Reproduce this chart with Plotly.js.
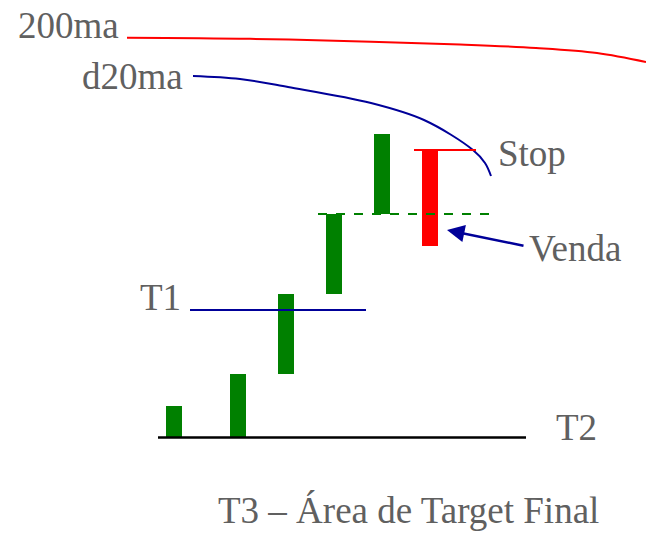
<!DOCTYPE html>
<html>
<head>
<meta charset="utf-8">
<script src="https://cdn.plot.ly/plotly-3.0.1.min.js"></script>
</head>
<body style="margin:0;background:#fff">
<div id="chart"></div>
<script>
// Candles (screen-like units, y grows downward)
const candleX      = [174, 238, 286, 334, 382, 430];
const candleTop    = [406, 374, 294, 214, 134, 150];
const candleBottom = [437, 437, 374, 294, 214, 246];
const candleColor  = ['#008000','#008000','#008000','#008000','#008000','#FF0000'];

// Moving averages
const ma200X = [127, 250, 371, 460, 536, 597, 646];
const ma200Y = [37.7, 38.8, 41.7, 44.5, 48, 53, 62];
const d20X   = [193, 240, 288, 371, 424, 473, 485, 491];
const d20Y   = [76, 79, 87, 103, 120, 150, 163, 176];

// Horizontal reference levels
const t1X = [190, 366], t1Y = [310, 310];
const t2X = [158, 526], t2Y = [437.5, 437.5];
const entryX = [318, 494], entryY = [214, 214];
const stopX = [414, 476], stopY = [150, 150];

// Labels
const labels = ['200ma', 'd20ma', 'Stop', 'Venda', 'T1', 'T2', 'T3 – Área de Target Final'];
const labelX = [17, 81, 497, 528, 139, 555, 217];
const labelY = [25, 76, 153, 248, 297, 427, 510];

const traces = [
  {type:'bar', x:candleX, y:candleBottom.map((b,i)=>b-candleTop[i]), base:candleTop,
   width:16, marker:{color:candleColor, line:{width:0}}, hoverinfo:'skip'},
  {type:'scatter', mode:'lines', x:ma200X, y:ma200Y, line:{color:'#FF0000', width:2, shape:'spline'}},
  {type:'scatter', mode:'lines', x:d20X, y:d20Y, line:{color:'#000099', width:2, shape:'spline'}},
  {type:'scatter', mode:'lines', x:t1X, y:t1Y, line:{color:'#000099', width:2}},
  {type:'scatter', mode:'lines', x:t2X, y:t2Y, line:{color:'#000000', width:2.5}},
  {type:'scatter', mode:'lines', x:entryX, y:entryY, line:{color:'#008000', width:2, dash:'dash'}},
  {type:'scatter', mode:'lines', x:stopX, y:stopY, line:{color:'#FF0000', width:2}}
];

const annotations = labels.map((t,i)=>({
  x:labelX[i], y:labelY[i], xref:'x', yref:'y', text:t, showarrow:false,
  xanchor:'left', yanchor:'middle', borderpad:0,
  font:{family:'Liberation Serif', size:37, color:'#606060'}
}));
annotations.push({
  x:447, y:230, ax:525, ay:246, xref:'x', yref:'y', axref:'x', ayref:'y',
  text:'', showarrow:true, arrowhead:2, arrowsize:1.4, arrowwidth:2.5, arrowcolor:'#000099'
});

const layout = {
  width:646, height:533, margin:{l:0,r:0,t:0,b:0},
  font:{family:'Liberation Serif'},
  paper_bgcolor:'#ffffff', plot_bgcolor:'#ffffff', showlegend:false,
  xaxis:{range:[0,646], visible:false, fixedrange:true},
  yaxis:{range:[533,0], visible:false, fixedrange:true},
  annotations:annotations
};

Plotly.newPlot('chart', traces, layout, {displayModeBar:false});
</script>
</body>
</html>
